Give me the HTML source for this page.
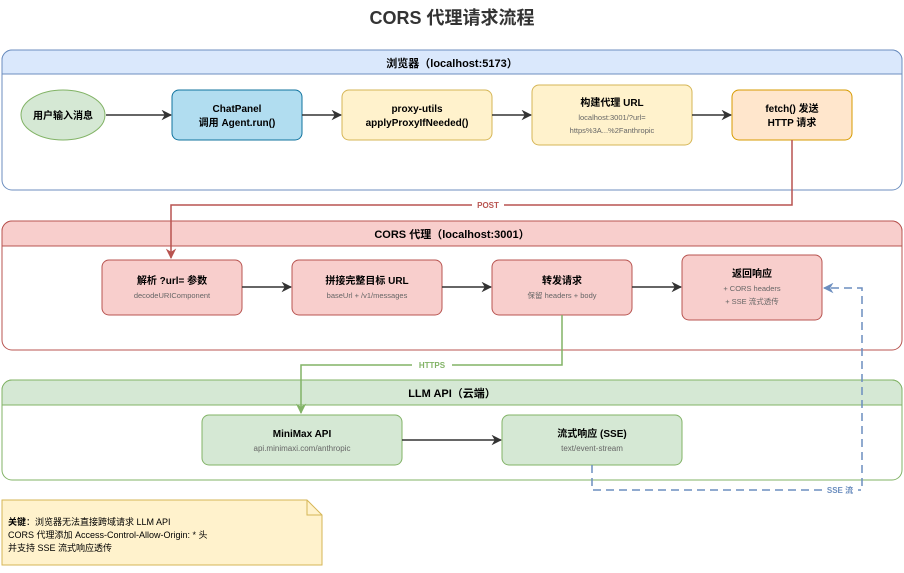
<!DOCTYPE html>
<html><head><meta charset="utf-8"><style>
body{margin:0;background:#fff;width:904px;height:568px;overflow:hidden}
svg text{font-family:"Liberation Sans","Noto Sans CJK SC",sans-serif}
</style></head><body>
<svg width="904" height="568" viewBox="0 0 904 568" xmlns="http://www.w3.org/2000/svg">
<defs>
<marker id="ag" viewBox="0 0 10 10" refX="9" refY="5" markerWidth="7" markerHeight="7" orient="auto"><path d="M0,0 L10,5 L0,10 L3,5z" fill="#333"/></marker>
<marker id="ar" viewBox="0 0 10 10" refX="9" refY="5" markerWidth="7" markerHeight="7" orient="auto"><path d="M0,0 L10,5 L0,10 L3,5z" fill="#b85450"/></marker>
<marker id="agr" viewBox="0 0 10 10" refX="9" refY="5" markerWidth="7" markerHeight="7" orient="auto"><path d="M0,0 L10,5 L0,10 L3,5z" fill="#82b366"/></marker>
<marker id="ab" viewBox="0 0 10 10" refX="9" refY="5" markerWidth="7" markerHeight="7" orient="auto"><path d="M0,0 L10,5 L0,10 L3,5z" fill="#6c8ebf"/></marker>
</defs>
<text x="452" y="24" text-anchor="middle" font-size="18" font-weight="bold" fill="#333">CORS 代理请求流程</text>

<!-- Browser -->
<rect x="2" y="50" width="900" height="140" rx="10" fill="#fff" stroke="#6c8ebf"/>
<path d="M2,74 V60 A10,10 0 0 1 12,50 H892 A10,10 0 0 1 902,60 V74 Z" fill="#dae8fc" stroke="#6c8ebf"/>
<text x="452" y="67" text-anchor="middle" font-size="11" font-weight="bold">浏览器（localhost:5173）</text>
<ellipse cx="63" cy="115" rx="42" ry="25" fill="#d5e8d4" stroke="#82b366"/>
<text x="63" y="119" text-anchor="middle" font-size="10" font-weight="bold">用户输入消息</text>
<rect x="172" y="90" width="130" height="50" rx="7" fill="#b1ddf0" stroke="#10739e"/>
<text x="237" y="112" text-anchor="middle" font-size="10" font-weight="bold">ChatPanel</text>
<text x="237" y="126" text-anchor="middle" font-size="10" font-weight="bold">调用 Agent.run()</text>
<rect x="342" y="90" width="150" height="50" rx="7" fill="#fff2cc" stroke="#d6b656"/>
<text x="417" y="112" text-anchor="middle" font-size="10" font-weight="bold">proxy-utils</text>
<text x="417" y="126" text-anchor="middle" font-size="10" font-weight="bold">applyProxyIfNeeded()</text>
<rect x="532" y="85" width="160" height="60" rx="7" fill="#fff2cc" stroke="#d6b656"/>
<text x="612" y="106" text-anchor="middle" font-size="10" font-weight="bold">构建代理 URL</text>
<text x="612" y="120" text-anchor="middle" font-size="7.5" fill="#666">localhost:3001/?url=</text>
<text x="612" y="133" text-anchor="middle" font-size="7.5" fill="#666">https%3A...%2Fanthropic</text>
<rect x="732" y="90" width="120" height="50" rx="7" fill="#ffe6cc" stroke="#d79b00"/>
<text x="792" y="112" text-anchor="middle" font-size="10" font-weight="bold">fetch() 发送</text>
<text x="792" y="126" text-anchor="middle" font-size="10" font-weight="bold">HTTP 请求</text>
<g stroke="#333" stroke-width="1.5" marker-end="url(#ag)">
<line x1="106" y1="115" x2="171" y2="115"/><line x1="302" y1="115" x2="341" y2="115"/>
<line x1="492" y1="115" x2="531" y2="115"/><line x1="692" y1="115" x2="731" y2="115"/>
</g>

<!-- CORS -->
<rect x="2" y="221" width="900" height="129" rx="10" fill="#fff" stroke="#b85450"/>
<path d="M2,246 V231 A10,10 0 0 1 12,221 H892 A10,10 0 0 1 902,231 V246 Z" fill="#f8cecc" stroke="#b85450"/>
<text x="452" y="238" text-anchor="middle" font-size="11" font-weight="bold">CORS 代理（localhost:3001）</text>
<rect x="102" y="260" width="140" height="55" rx="7" fill="#f8cecc" stroke="#b85450"/>
<text x="172" y="284" text-anchor="middle" font-size="10" font-weight="bold">解析 ?url= 参数</text>
<text x="172" y="298" text-anchor="middle" font-size="7.5" fill="#666">decodeURIComponent</text>
<rect x="292" y="260" width="150" height="55" rx="7" fill="#f8cecc" stroke="#b85450"/>
<text x="367" y="284" text-anchor="middle" font-size="10" font-weight="bold">拼接完整目标 URL</text>
<text x="367" y="298" text-anchor="middle" font-size="7.5" fill="#666">baseUrl + /v1/messages</text>
<rect x="492" y="260" width="140" height="55" rx="7" fill="#f8cecc" stroke="#b85450"/>
<text x="562" y="284" text-anchor="middle" font-size="10" font-weight="bold">转发请求</text>
<text x="562" y="298" text-anchor="middle" font-size="7.5" fill="#666">保留 headers + body</text>
<rect x="682" y="255" width="140" height="65" rx="7" fill="#f8cecc" stroke="#b85450"/>
<text x="752" y="277" text-anchor="middle" font-size="10" font-weight="bold">返回响应</text>
<text x="752" y="291" text-anchor="middle" font-size="7.5" fill="#666">+ CORS headers</text>
<text x="752" y="304" text-anchor="middle" font-size="7.5" fill="#666">+ SSE 流式透传</text>
<g stroke="#333" stroke-width="1.5" marker-end="url(#ag)">
<line x1="242" y1="287" x2="291" y2="287"/><line x1="442" y1="287" x2="491" y2="287"/>
<line x1="632" y1="287" x2="681" y2="287"/>
</g>

<!-- LLM -->
<rect x="2" y="380" width="900" height="100" rx="10" fill="#fff" stroke="#82b366"/>
<path d="M2,405 V390 A10,10 0 0 1 12,380 H892 A10,10 0 0 1 902,390 V405 Z" fill="#d5e8d4" stroke="#82b366"/>
<text x="452" y="397" text-anchor="middle" font-size="11" font-weight="bold">LLM API（云端）</text>
<rect x="202" y="415" width="200" height="50" rx="7" fill="#d5e8d4" stroke="#82b366"/>
<text x="302" y="437" text-anchor="middle" font-size="10" font-weight="bold">MiniMax API</text>
<text x="302" y="451" text-anchor="middle" font-size="8" fill="#666">api.minimaxi.com/anthropic</text>
<rect x="502" y="415" width="180" height="50" rx="7" fill="#d5e8d4" stroke="#82b366"/>
<text x="592" y="437" text-anchor="middle" font-size="10" font-weight="bold">流式响应 (SSE)</text>
<text x="592" y="451" text-anchor="middle" font-size="8" fill="#666">text/event-stream</text>
<line x1="402" y1="440" x2="501" y2="440" stroke="#333" stroke-width="1.5" marker-end="url(#ag)"/>

<!-- connectors -->
<path d="M792,140 V205 H171 V258" fill="none" stroke="#b85450" stroke-width="1.5" marker-end="url(#ar)"/>
<rect x="472" y="199" width="32" height="12" fill="#fff"/>
<text x="488" y="208" text-anchor="middle" font-size="8" font-weight="bold" fill="#b85450">POST</text>
<path d="M562,315 V365 H301 V413" fill="none" stroke="#82b366" stroke-width="1.5" marker-end="url(#agr)"/>
<rect x="412" y="359" width="40" height="12" fill="#fff"/>
<text x="432" y="368" text-anchor="middle" font-size="8" font-weight="bold" fill="#82b366">HTTPS</text>
<path d="M592,465 V490 H862 V288 H824" fill="none" stroke="#6c8ebf" stroke-width="1.5" stroke-dasharray="8,5" marker-end="url(#ab)"/>
<rect x="822" y="484" width="36" height="12" fill="#fff"/>
<text x="840" y="493" text-anchor="middle" font-size="8" font-weight="bold" fill="#6c8ebf">SSE 流</text>

<!-- note -->
<path d="M2,500 H307 L322,515 V565 H2 Z" fill="#fff2cc" stroke="#d6b656"/>
<path d="M307,500 V515 H322" fill="none" stroke="#d6b656"/>
<text x="8" y="525" font-size="9"><tspan font-weight="bold">关键</tspan>：浏览器无法直接跨域请求 LLM API</text>
<text x="8" y="538" font-size="9">CORS 代理添加 Access-Control-Allow-Origin: * 头</text>
<text x="8" y="551" font-size="9">并支持 SSE 流式响应透传</text>
</svg>
</body></html>
